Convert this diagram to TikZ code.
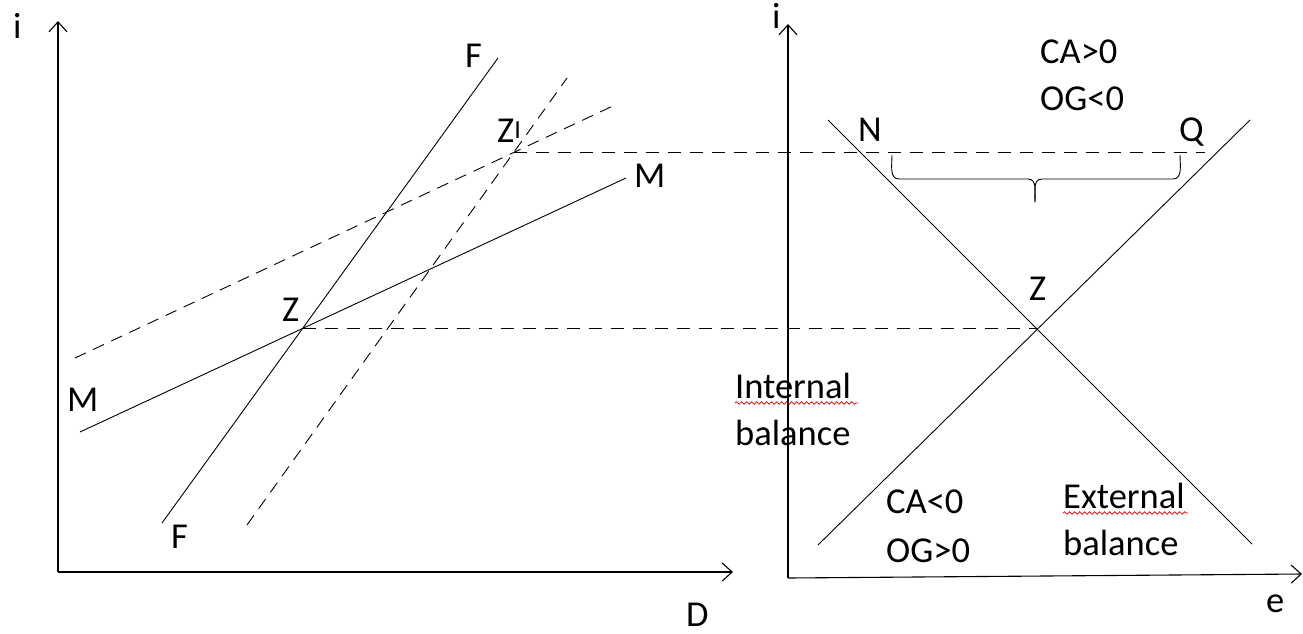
\documentclass[tikz,border=0pt]{standalone}
\usepackage{fontspec}
\setmainfont{Carlito}
\usetikzlibrary{arrows.meta,intersections,decorations.pathmorphing}

\begin{document}
\begin{tikzpicture}[
    x=1pt,
    y=-1pt,
    font=\fontsize{36.5}{44}\selectfont,
    axis/.style={line width=1.1pt, -{Straight Barb[length=10pt,width=18pt,line width=1.1pt]}},
    curve/.style={line width=0.9pt},
    shifted/.style={curve, dash pattern=on 12pt off 8pt},
    guide/.style={line width=0.9pt, dash pattern=on 13pt off 9pt},
    lbl/.style={inner sep=0pt, anchor=base west},
    typo/.style={draw=red!85!black, line width=0.7pt, decorate, decoration={snake, amplitude=1.3pt, segment length=5pt}}
  ]
    \useasboundingbox (0,0) rectangle (1303,633);

    \coordinate (lo) at (58,572);
    \coordinate (ltop) at (58,21);
    \coordinate (lend) at (733,572);
    \coordinate (ro) at (788,578);
    \coordinate (rtop) at (788,24);
    \coordinate (rend) at (1302,574);
    \draw[axis] (lo) -- (ltop);
    \draw[axis] (lo) -- (lend);
    \draw[axis] (ro) -- (rtop);
    \draw[axis] (ro) -- (rend);

    \coordinate (f1) at (162,523);
    \coordinate (f2) at (498,58);
    \coordinate (m1) at (80,432);
    \coordinate (m2) at (626,178);
    \coordinate (fd1) at (247,525);
    \coordinate (fd2) at (567,78);
    \coordinate (md1) at (75,358);
    \coordinate (md2) at (615,105);
    \draw[curve, name path=ff] (f1) -- (f2);
    \draw[curve, name path=mm] (m1) -- (m2);
    \draw[shifted, name path=ffd] (fd1) -- (fd2);
    \draw[shifted, name path=mmd] (md1) -- (md2);
    \path[name intersections={of=ff and mm, by=zl}];
    \path[name intersections={of=ffd and mmd, by=zld}];

    \coordinate (ext1) at (828,120);
    \coordinate (ext2) at (1252,544);
    \coordinate (int1) at (818,545);
    \coordinate (int2) at (1250,120);
    \draw[curve, name path=ext] (ext1) -- (ext2);
    \draw[curve, name path=int] (int1) -- (int2);
    \path[name intersections={of=ext and int, by=zr}];

    \coordinate (zrl) at (zl -| zr);
    \coordinate (qpost) at (1205,0);
    \coordinate (qend) at (zld -| qpost);
    \draw[guide] (zl) -- (zrl);
    \draw[guide] (zld) -- (qend);

    \coordinate (bl) at (892,155);
    \coordinate (br) at (1180,155);
    \coordinate (btip) at (1035,202);
    \draw[curve] (bl) to[out=-90,in=180] (899,179) -- (1028,179) to[out=0,in=90] (btip);
    \draw[curve] (btip) to[out=90,in=180] (1042,179) -- (1173,179) to[out=0,in=-90] (br);

    \node[lbl] (ilab) at (13,38) {i};
    \node[lbl] (dlab) at (686,626) {D};
    \node[lbl] (ftop) at (465,67) {F};
    \node[lbl] (fbot) at (171,548) {F};
    \node[lbl] (mright) at (634,187) {M};
    \node[lbl] (mleft) at (67,411) {M};
    \node[lbl] (zleft) at (282,321) {Z};
    \node[lbl] (zprime) at (497,142) {Z\raisebox{4pt}{\fontsize{26}{30}\selectfont I}};

    \node[lbl] (irlab) at (772,28) {i};
    \node[lbl] (elab) at (1266,612) {e};
    \node[lbl] (nlab) at (858,141) {N};
    \node[lbl] (qlab) at (1179,141) {Q};
    \node[lbl] (zright) at (1029,300) {Z};
    \node[lbl] (capos) at (1040,63) {CA>0};
    \node[lbl] (ogneg) at (1040,110) {OG<0};
    \node[lbl] (intl) at (735,398) {Internal};
    \node[lbl] (intb) at (735,445) {balance};
    \node[lbl] (caneg) at (886,513) {CA<0};
    \node[lbl] (ogpos) at (886,562) {OG>0};
    \node[lbl] (extl) at (1063,508) {External};
    \node[lbl] (extb) at (1063,555) {balance};

    \draw[typo] (intl.base west) ++(0,5) -- ++(123,0);
    \draw[typo] (extl.base west) ++(0,5) -- ++(125,0);
  \end{tikzpicture}
\end{document}
